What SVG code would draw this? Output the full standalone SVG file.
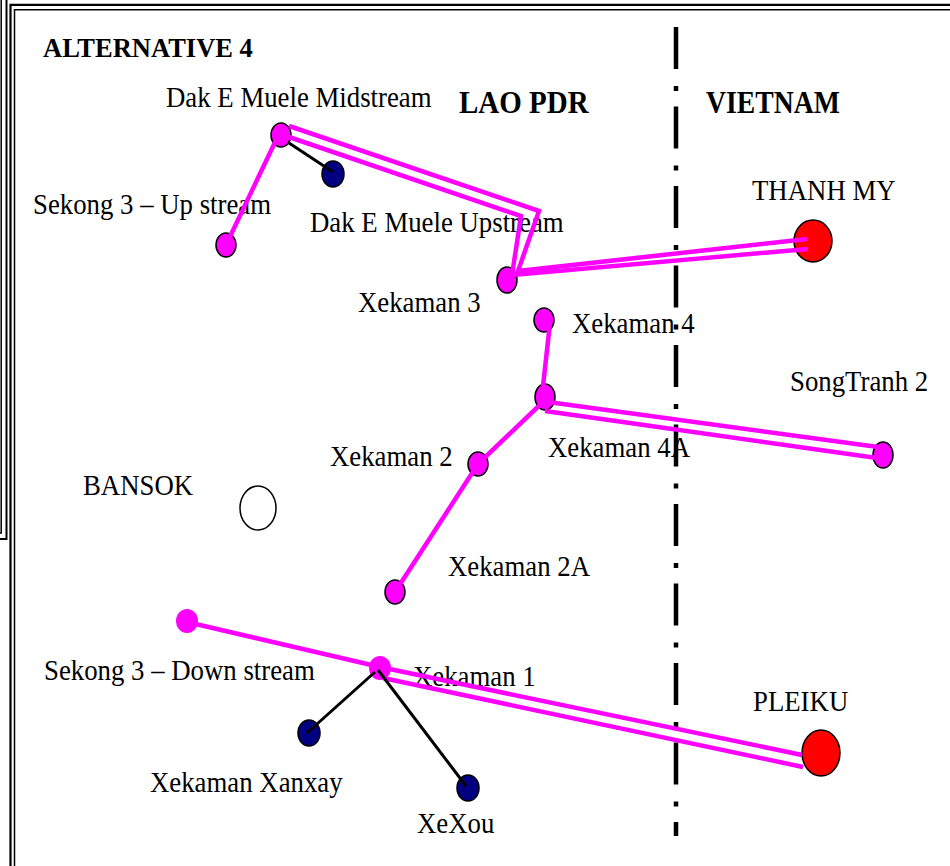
<svg xmlns="http://www.w3.org/2000/svg" width="950" height="866" viewBox="0 0 950 866">
<style>
.lbl{font-family:"Liberation Serif","Times New Roman",serif;font-size:26.8px;fill:#000}
.bold{font-family:"Liberation Serif","Times New Roman",serif;font-weight:bold;fill:#000}
.mag{fill:#FF00FF;stroke:#000;stroke-width:1.5}
.magn{fill:#FF00FF;stroke:none}
.navy{fill:#000080;stroke:#000;stroke-width:1.5}
.red{fill:#FF0000;stroke:#000;stroke-width:1.5}
.ml{fill:none;stroke:#FF00FF;stroke-width:4.5;stroke-linejoin:miter}
.bl{fill:none;stroke:#000;stroke-width:3}
.fr{fill:none;stroke:#000}
</style>
<rect width="950" height="866" fill="#fff"/>
<g id="frame">
<polyline class="fr" stroke-width="1.5" points="1.2,0 1.2,533 0,533"/>
<polyline class="fr" stroke-width="2" points="6.5,0 6.5,539 0,539"/>
<polyline class="fr" stroke-width="2.2" points="10.5,866 10.5,4.8 950,4.8"/>
<polyline class="fr" stroke-width="1.5" points="14.5,866 14.5,9.8 950,9.8"/>
</g>
<g id="border-line">
<line x1="676" y1="27" x2="676" y2="836" stroke="#000" stroke-width="4.5" stroke-dasharray="42 17 5 15.5"/>
</g>
<g id="titles">
<text class="bold" font-size="26.5" transform="translate(43,57) scale(1,1.07)">ALTERNATIVE 4</text>
<text class="bold" font-size="29" transform="translate(459,113) scale(1,1.12)">LAO PDR</text>
<text class="bold" font-size="27.7" transform="translate(706,113) scale(1,1.15)">VIETNAM</text>
</g>
<g id="n-dak-mid"><ellipse class="mag" cx="281" cy="135" rx="10" ry="12"/><text class="lbl" transform="translate(166,107) scale(1,1.12)">Dak E Muele Midstream</text></g>
<g id="n-dak-up"><ellipse class="navy" cx="333" cy="174" rx="11" ry="13"/><text class="lbl" transform="translate(310,232) scale(1,1.12)">Dak E Muele Upstream</text></g>
<g id="n-sekong-up"><ellipse class="mag" cx="226" cy="245" rx="10" ry="12"/><text class="lbl" transform="translate(33,214) scale(1,1.12)">Sekong 3 – Up stream</text></g>
<g id="n-thanhmy"><ellipse class="red" cx="813" cy="241" rx="19" ry="21"/><text class="lbl" transform="translate(752,200) scale(1,1.12)">THANH MY</text></g>
<g id="n-xk3"><ellipse class="mag" cx="507" cy="280" rx="10" ry="13"/><text class="lbl" transform="translate(358,312) scale(1,1.12)">Xekaman 3</text></g>
<g id="n-xk4"><ellipse class="mag" cx="544" cy="320" rx="10" ry="12"/><text class="lbl" transform="translate(572,333) scale(1,1.12)">Xekaman 4</text></g>
<g id="n-songtranh"><ellipse class="mag" cx="883" cy="455" rx="10" ry="13"/><text class="lbl" transform="translate(790,391) scale(1,1.12)">SongTranh 2</text></g>
<g id="n-xk4a"><ellipse class="mag" cx="545" cy="397" rx="10" ry="13"/><text class="lbl" transform="translate(548,457) scale(1,1.12)">Xekaman 4A</text></g>
<g id="n-xk2"><ellipse class="mag" cx="478" cy="464" rx="10" ry="12"/><text class="lbl" transform="translate(330,466) scale(1,1.12)">Xekaman 2</text></g>
<g id="n-bansok"><ellipse fill="#fff" stroke="#000" stroke-width="1.5" cx="258" cy="508" rx="18" ry="22"/><text class="lbl" transform="translate(83,495) scale(1,1.12)">BANSOK</text></g>
<g id="n-xk2a"><ellipse class="mag" cx="395" cy="592" rx="10" ry="12"/><text class="lbl" transform="translate(448,576) scale(1,1.12)">Xekaman 2A</text></g>
<g id="n-sekong-down"><ellipse class="magn" cx="187" cy="621" rx="11" ry="12"/><text class="lbl" transform="translate(44,680) scale(1,1.12)">Sekong 3 – Down stream</text></g>
<g id="n-xk1"><ellipse class="magn" cx="380" cy="668" rx="11" ry="12"/><text class="lbl" transform="translate(413,686) scale(1,1.12)">Xekaman 1</text></g>
<g id="n-pleiku"><ellipse class="red" cx="821" cy="753" rx="19" ry="23"/><text class="lbl" transform="translate(753,711) scale(1,1.12)">PLEIKU</text></g>
<g id="n-xanxay"><ellipse class="navy" cx="309" cy="733" rx="11" ry="13"/><text class="lbl" transform="translate(150,792) scale(1,1.12)">Xekaman Xanxay</text></g>
<g id="n-xexou"><ellipse class="navy" cx="468" cy="788" rx="11" ry="13"/><text class="lbl" transform="translate(417,833) scale(1,1.12)">XeXou</text></g>
<g id="connectors">
<polyline class="ml" points="289,126 539,211 518,271 807,239"/>
<polyline class="ml" points="289,137 521,216 512,275 808,249"/>
<line class="ml" x1="548" y1="402" x2="878" y2="447"/>
<line class="ml" x1="545" y1="411" x2="877" y2="458"/>
<polyline class="ml" points="187,622 380,667 802,755"/>
<line class="ml" x1="383" y1="678" x2="803" y2="767"/>
<line class="ml" x1="226" y1="245" x2="278" y2="136"/>
<line class="ml" x1="550" y1="323" x2="542" y2="395"/>
<line class="ml" x1="545" y1="400" x2="478" y2="464"/>
<line class="ml" x1="478" y1="464" x2="395" y2="592"/>
<line class="bl" x1="289" y1="143" x2="333" y2="172"/>
<line class="bl" x1="375" y1="672" x2="307" y2="733"/>
<line class="bl" x1="378" y1="670" x2="466" y2="786"/>
</g>
</svg>
